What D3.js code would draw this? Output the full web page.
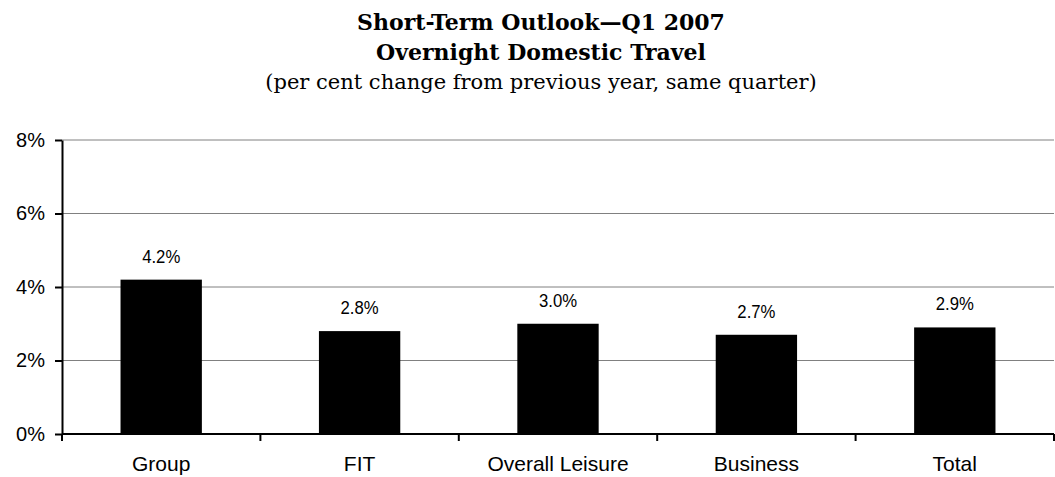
<!DOCTYPE html>
<html>
<head>
<meta charset="utf-8">
<script src="https://cdn.jsdelivr.net/npm/d3@7"></script>
<style>
  body { margin: 0; background: #fff; }
</style>
</head>
<body>
<div id="chart"></div>
<script>
// data
const categories = ['Group', 'FIT', 'Overall Leisure', 'Business', 'Total'];
const values = [4.2, 2.8, 3.0, 2.7, 2.9];
const yTicks = [0, 2, 4, 6, 8];

const width = 1055;
const height = 477;
const margin = { top: 140, right: 1, bottom: 43, left: 62 };
const innerW = width - margin.left - margin.right;
const innerH = height - margin.top - margin.bottom;

const svg = d3
  .select('#chart')
  .append('svg')
  .attr('width', width)
  .attr('height', height);

// titles
const serif = "'Palatino Linotype', 'Book Antiqua', Palatino, 'DejaVu Serif', serif";
const sans = "'Liberation Sans', Arial, sans-serif";
svg.append('text')
  .attr('x', 541).attr('y', 30)
  .attr('text-anchor', 'middle')
  .style('font-family', serif).style('font-size', '22px').style('font-weight', 'bold')
  .text('Short-Term Outlook\u2014Q1 2007');
svg.append('text')
  .attr('x', 541).attr('y', 60)
  .attr('text-anchor', 'middle')
  .style('font-family', serif).style('font-size', '22px').style('font-weight', 'bold')
  .text('Overnight Domestic Travel');
svg.append('text')
  .attr('x', 541).attr('y', 89)
  .attr('text-anchor', 'middle')
  .style('font-family', serif).style('font-size', '21px')
  .text('(per cent change from previous year, same quarter)');

const g = svg.append('g')
  .attr('transform', 'translate(' + margin.left + ',' + margin.top + ')');

const x = d3.scaleBand().domain(categories).range([0, innerW]).paddingInner(0.59).paddingOuter(0.295);
const y = d3.scaleLinear().domain([0, 8]).range([innerH, 0]);

// gridlines
g.selectAll('.grid')
  .data(yTicks.filter((d) => d > 0))
  .join('line')
  .attr('class', 'grid')
  .attr('x1', 0).attr('x2', innerW)
  .attr('y1', (d) => y(d)).attr('y2', (d) => y(d))
  .attr('stroke', '#808080').attr('stroke-width', 1);

// bars
g.selectAll('.bar')
  .data(values)
  .join('rect')
  .attr('class', 'bar')
  .attr('x', (d, i) => x(categories[i]))
  .attr('y', (d) => y(d))
  .attr('width', x.bandwidth())
  .attr('height', (d) => innerH - y(d))
  .attr('fill', '#000');

// value labels (narrow font in the original, squeezed a little here)
g.selectAll('.val')
  .data(values)
  .join('text')
  .attr('class', 'val')
  .attr('transform', (d, i) =>
    'translate(' + (x(categories[i]) + x.bandwidth() / 2) + ',' + (y(d) - 17) + ') scale(0.88,1)')
  .attr('text-anchor', 'middle')
  .style('font-family', "'Liberation Sans Narrow', 'Arial Narrow', " + sans)
  .style('font-size', '19px')
  .text((d) => d.toFixed(1) + '%');

// y axis
const yAxis = g.append('g')
  .call(d3.axisLeft(y).tickValues(yTicks).tickFormat((d) => d + '%').tickSize(7).tickSizeOuter(0));
yAxis.select('.domain').attr('stroke-width', 2);
yAxis.selectAll('.tick line').attr('stroke-width', 2);
yAxis.selectAll('.tick text')
  .attr('x', -17)
  .style('font-family', sans)
  .style('font-size', '20px')
  .attr('fill', '#000');

// x axis with ticks on category boundaries
const step = innerW / categories.length;
const bounds = d3.range(categories.length + 1).map((i) => i * step);
const xg = g.append('g').attr('transform', 'translate(0,' + innerH + ')');
xg.append('line')
  .attr('x1', 0).attr('x2', innerW)
  .attr('stroke', '#000').attr('stroke-width', 2);
xg.selectAll('.xtick')
  .data(bounds)
  .join('line')
  .attr('class', 'xtick')
  .attr('x1', (d) => d).attr('x2', (d) => d)
  .attr('y1', 0).attr('y2', 7)
  .attr('stroke', '#000').attr('stroke-width', 2);
xg.selectAll('.xlab')
  .data(categories)
  .join('text')
  .attr('class', 'xlab')
  .attr('x', (d) => x(d) + x.bandwidth() / 2)
  .attr('y', 37)
  .attr('text-anchor', 'middle')
  .style('font-family', sans)
  .style('font-size', '21px')
  .text((d) => d);
</script>
</body>
</html>
